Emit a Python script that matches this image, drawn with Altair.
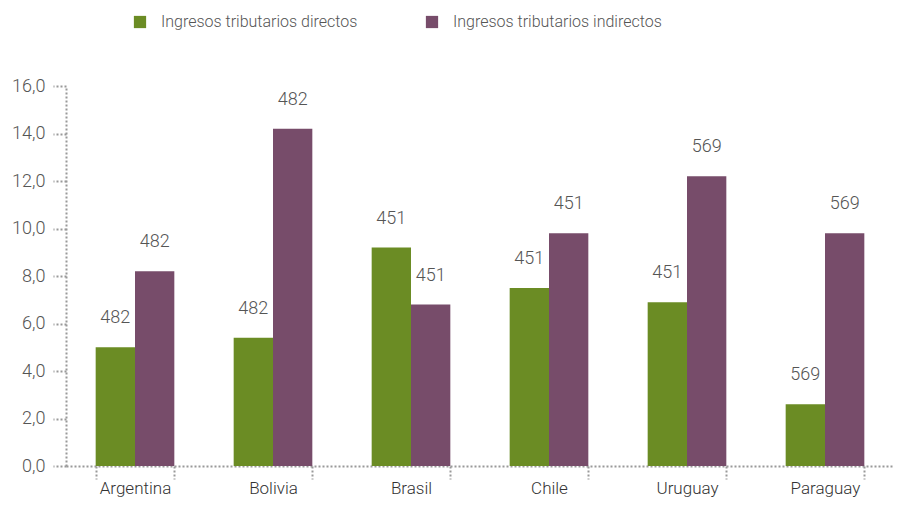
import altair as alt
import pandas as pd

countries = ["Argentina", "Bolivia", "Brasil", "Chile", "Uruguay", "Paraguay"]
series = ["Ingresos tributarios directos", "Ingresos tributarios indirectos"]
directos = [5.0, 5.4, 9.2, 7.5, 6.9, 2.6]
indirectos = [8.2, 14.2, 6.8, 9.8, 12.2, 9.8]
lab_directos = ["482", "482", "451", "451", "451", "569"]
lab_indirectos = ["482", "482", "451", "451", "569", "569"]
colors = ["#6b8c24", "#774c6a"]

rows = []
for i, c in enumerate(countries):
    rows.append({"pais": c, "serie": series[0], "valor": directos[i], "lab": lab_directos[i]})
    rows.append({"pais": c, "serie": series[1], "valor": indirectos[i], "lab": lab_indirectos[i]})
df = pd.DataFrame(rows)

FONT = "Roboto, sans-serif"
GREY = "#999999"
TXT = "#555555"

x = alt.X(
    "pais:N", sort=countries, title=None,
    scale=alt.Scale(paddingInner=0.43, paddingOuter=0.215),
    axis=alt.Axis(
        labelAngle=0, labelFont=FONT, labelFontSize=17, labelFontWeight=300,
        labelColor="#333333", labelPadding=1, tickBand="extent", tickSize=13,
        tickDash=[2, 2], tickColor=GREY, tickWidth=2,
        domainColor=GREY, domainDash=[2, 2], domainWidth=2,
    ),
)
y = alt.Y(
    "valor:Q", title=None,
    scale=alt.Scale(domain=[0, 16], nice=False),
    axis=alt.Axis(
        values=[0, 2, 4, 6, 8, 10, 12, 14, 16], grid=False,
        labelExpr="replace(format(datum.value, '.1f'), '.', ',')",
        labelFont=FONT, labelFontSize=18, labelFontWeight=300, labelColor=TXT,
        labelPadding=8, tickSize=13, tickDash=[2, 2], tickColor=GREY, tickWidth=2,
        domainColor=GREY, domainDash=[2, 2], domainWidth=2,
    ),
)
color = alt.Color(
    "serie:N", sort=series, title=None,
    scale=alt.Scale(domain=series, range=colors),
    legend=alt.Legend(
        orient="none", legendX=66, legendY=-72, direction="horizontal",
        symbolType="square", symbolSize=150, symbolStrokeWidth=0, symbolOpacity=1,
        labelFont=FONT, labelFontSize=16, labelFontWeight=300, labelColor=TXT,
        labelOffset=13, columnPadding=66, labelLimit=400,
    ),
)

base = alt.Chart(df)
bars = base.mark_bar(opacity=1).encode(
    x=x, y=y, color=color,
    xOffset=alt.XOffset("serie:N", sort=series),
)
text = base.mark_text(
    baseline="bottom", dy=-20, font=FONT, fontSize=18, fontWeight=300, color=TXT
).encode(
    x=alt.X("pais:N", sort=countries),
    y="valor:Q",
    xOffset=alt.XOffset("serie:N", sort=series),
    text="lab:N",
)

chart = alt.layer(bars, text).properties(
    width=828, height=380,
    padding={"left": 58, "top": 78, "right": 0, "bottom": 34},
    autosize=alt.AutoSizeParams(type="none"),
).configure(background="white").configure_view(stroke=None)

chart.save("out.html", embed_options={"renderer": "svg", "actions": False})
